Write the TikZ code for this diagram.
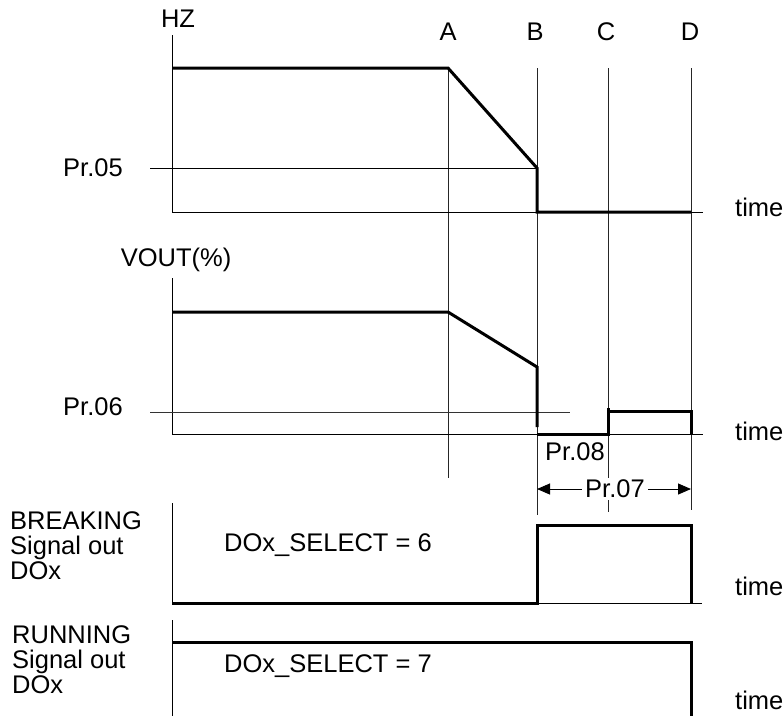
\documentclass[tikz,border=0pt]{standalone}
\usepackage{fontspec}
\setmainfont{Liberation Sans}
\usetikzlibrary{arrows.meta}
\tikzset{
  axis/.style={black,line width=1pt},
  guide/.style={black!85,line width=0.9pt},
  level/.style={black,line width=3pt,line join=miter},
  dim/.style={{Triangle[length=13pt,width=11pt]}-{Triangle[length=13pt,width=11pt]},line width=1pt},
  lab/.style={font=\fontsize{25.5}{25}\selectfont,inner sep=0pt},
  sig/.style={lab,align=left,anchor=west},
}

\begin{document}
\begin{tikzpicture}[x=1pt,y=-1pt]
  \path[use as bounding box] (0,0) rectangle (783,716);

  % guide lines A..D
  \draw[guide] (448,68) -- (448,478);
  \draw[guide] (537,68) -- (537,515);
  \draw[guide] (608,68) -- (608,512);
  \draw[guide] (691,68) -- (691,510);

  % frequency
  \node[lab] (hz) at (178,19) {HZ};
  \node[lab] (ta) at (448,32) {A};
  \node[lab] (tb) at (535,32) {B};
  \node[lab] (tc) at (606,32) {C};
  \node[lab] (td) at (690,32) {D};
  \draw[axis] (172,35) -- (172,212) -- (703,212);
  \node[lab,anchor=west] (pr05) at (63,168) {Pr.05};
  \draw[axis] (150,168) -- (537,168);
  \draw[level] (172,68) -- (448,68) -- (537,168) -- (537,212) -- (691,212);
  \node[lab,anchor=west] (time1) at (735,207) {time};

  % output voltage
  \node[lab] (vout) at (176,260) {VOUT(\%)};
  \draw[axis] (172,278) -- (172,434) -- (703,434);
  \node[lab,anchor=west] (pr06) at (63,407) {Pr.06};
  \draw[axis,black!80] (150,412) -- (570,412);
  \draw[level] (172,312) -- (448,312) -- (537,367) -- (537,427);
  \draw[level] (537,434) -- (608,434) -- (608,408);
  \draw[level] (608,411) -- (691,411) -- (691,434);
  \node[lab,anchor=west] (time2) at (735,431) {time};

  \node[lab] (pr08) at (575,452) {Pr.08};
  \coordinate (pB) at (537,489);
  \coordinate (pD) at (691,489);
  \draw[dim] (pB) -- (pD);
  \node[lab,fill=white,inner xsep=3pt,inner ysep=2pt] (pr07) at (615,489) {Pr.07};

  % breaking signal
  \node[sig] (brk) at (10,546) {BREAKING\\Signal out\\DOx};
  \draw[axis] (172,503) -- (172,603) -- (702,603);
  \draw[level] (172,603) -- (537,603) -- (537,525) -- (691,525) -- (691,603);
  \node[lab,anchor=west] (sel6) at (224,545) {DOx\_SELECT = 6};
  \node[lab,anchor=west] (time3) at (735,586) {time};

  % running signal
  \node[sig] (run) at (12,660) {RUNNING\\Signal out\\DOx};
  \draw[axis] (172,620) -- (172,716);
  \draw[level] (172,642) -- (691,642) -- (691,716);
  \node[lab,anchor=west] (sel7) at (224,666) {DOx\_SELECT = 7};
  \node[lab,anchor=west] (time4) at (735,700) {time};
\end{tikzpicture}
\end{document}
